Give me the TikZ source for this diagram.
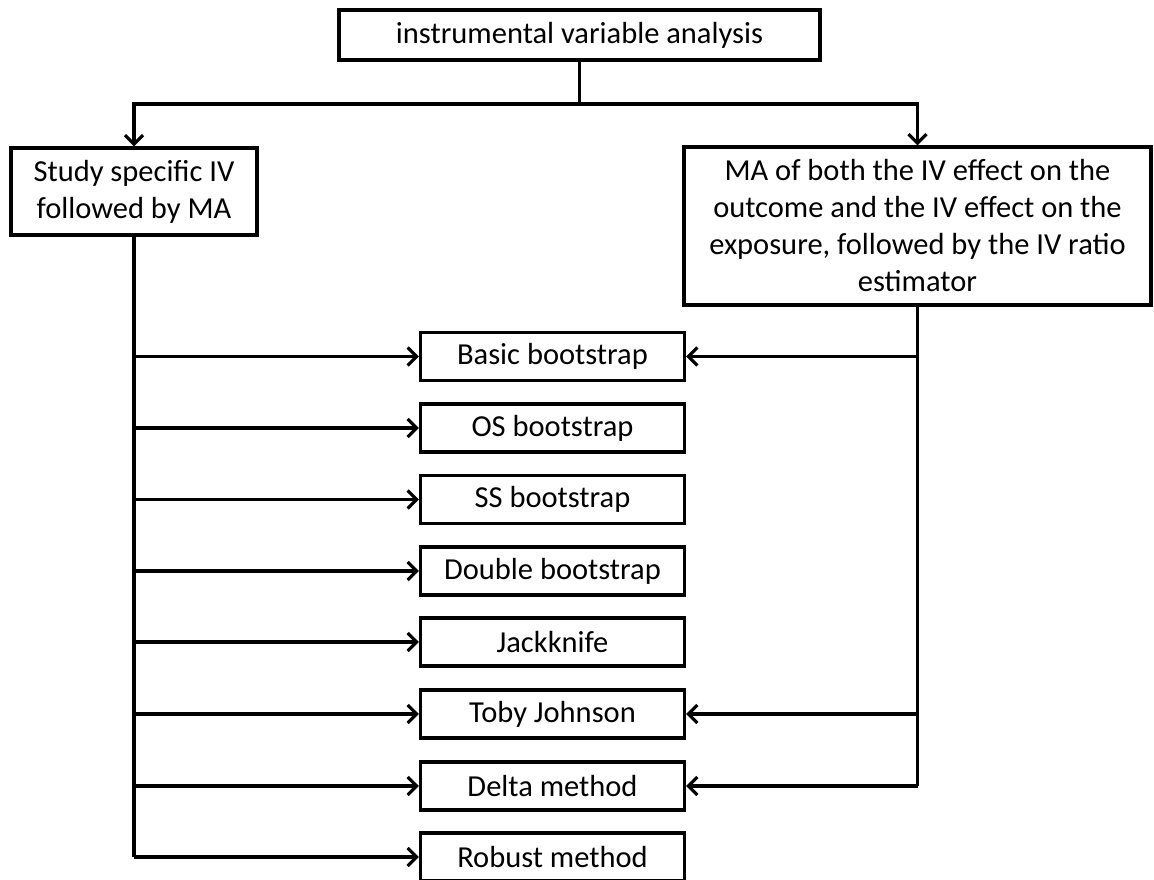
\documentclass[tikz,border=0pt]{standalone}
\usepackage{fontspec}
\setmainfont{Carlito}
\usetikzlibrary{arrows.meta}
\begin{document}
\begin{tikzpicture}[x=1pt,y=-1pt,
  box/.style={draw=black,line width=3.2pt,inner sep=0pt,align=center,font=\fontsize{30.5}{37}\selectfont},
  midbox/.style={box,minimum width=264pt,minimum height=48pt},
  conn/.style={line width=3.2pt},
  arr/.style={conn,-{Straight Barb[length=9pt,width=18pt,line width=3.2pt]}}]
\useasboundingbox (0,0) rectangle (1154,880);
\node[box,minimum width=481pt,minimum height=50pt] (top) at (579.5,35) {instrumental variable analysis};
\node[box,minimum width=246pt,minimum height=87pt] (left) at (134,191.5) {Study specific IV\\followed by MA};
\node[box,minimum width=467pt,minimum height=158pt] (right) at (917.5,226) {MA of both the IV effect on the\\outcome and the IV effect on the\\exposure, followed by the IV ratio\\estimator};
\node[midbox] (b1) at (552.5,356.5) {Basic bootstrap};
\node[midbox] (b2) at (552.5,428) {OS bootstrap};
\node[midbox] (b3) at (552.5,499.5) {SS bootstrap};
\node[midbox] (b4) at (552.5,571) {Double bootstrap};
\node[midbox] (b5) at (552.5,642) {Jackknife};
\node[midbox] (b6) at (552.5,714) {Toby Johnson};
\node[midbox] (b7) at (552.5,786) {Delta method};
\node[midbox] (b8) at (552.5,857) {Robust method};
\coordinate (j) at (579.5,104);
\draw[conn] (top.south) -- (j);
\draw[arr] (j) -| (left.north);
\draw[arr] (j) -| (right.north);
\draw[conn] (left.south) -- (left.south |- b8);
\foreach \b in {b1,b2,b3,b4,b5,b6,b7,b8}
  \draw[arr] (left.south |- \b) -- (\b.west);
\draw[conn] (right.south) -- (right.south |- b7);
\foreach \b in {b1,b6,b7}
  \draw[arr] (right.south |- \b) -- (\b.east);
\end{tikzpicture}
\end{document}
